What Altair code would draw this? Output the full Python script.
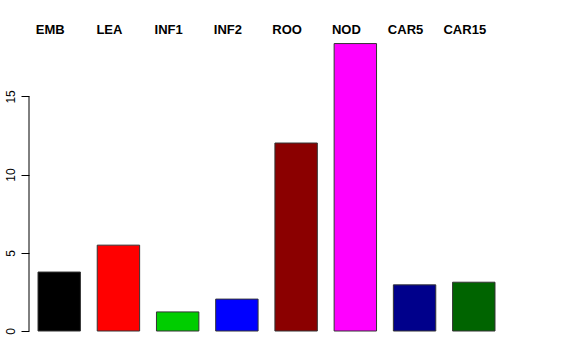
import altair as alt
import pandas as pd

categories = ["EMB", "LEA", "INF1", "INF2", "ROO", "NOD", "CAR5", "CAR15"]
values = [3.77, 5.49, 1.22, 2.04, 12.02, 18.38, 2.95, 3.12]
colors = ["#000000", "#FF0000", "#00CD00", "#0000FF", "#8B0000", "#FF00FF", "#00008B", "#006400"]
ticks = [0, 5, 10, 15]

df = pd.DataFrame({"cat": categories, "val": values, "col": colors})
axis_df = pd.DataFrame({"y0": [ticks[0]], "y1": [ticks[-1]]})

xscale = alt.Scale(domain=categories, paddingInner=0.284, paddingOuter=0.152)
yscale = alt.Scale(domain=[0, 19.12], nice=False, zero=True)

bars = alt.Chart(df).mark_bar(stroke="#333333", strokeWidth=1).encode(
    x=alt.X("cat:N", scale=xscale, axis=None, sort=categories),
    y=alt.Y("val:Q", scale=yscale,
            axis=alt.Axis(values=ticks, domain=False, grid=False, title=None,
                          tickSize=8, tickColor="#000000", labelAngle=270,
                          labelAlign="center", labelBaseline="bottom",
                          labelPadding=4, labelFontSize=12,
                          labelFont="Liberation Sans", labelColor="#000000")),
    color=alt.Color("col:N", scale=None),
)

labels = alt.Chart(df).mark_text(
    fontWeight="bold", fontSize=13, font="Liberation Sans", baseline="middle",
    dx=-9, color="#000000"
).encode(
    x=alt.X("cat:N", scale=xscale, axis=None, sort=categories),
    y=alt.value(-2),
    text="cat:N",
)

axis_line = alt.Chart(axis_df).mark_rule(color="#000000", strokeWidth=1).encode(
    x=alt.value(0),
    y=alt.Y("y0:Q", scale=yscale),
    y2="y1:Q",
)

chart = alt.layer(bars, labels, axis_line).properties(
    width=475, height=299,
    background="white",
    autosize=alt.AutoSizeParams(type="none"),
    padding={"left": 29, "top": 32, "right": 72, "bottom": 29},
).configure_view(stroke=None)

chart.save("out.html", embed_options={"renderer": "svg", "actions": False})
